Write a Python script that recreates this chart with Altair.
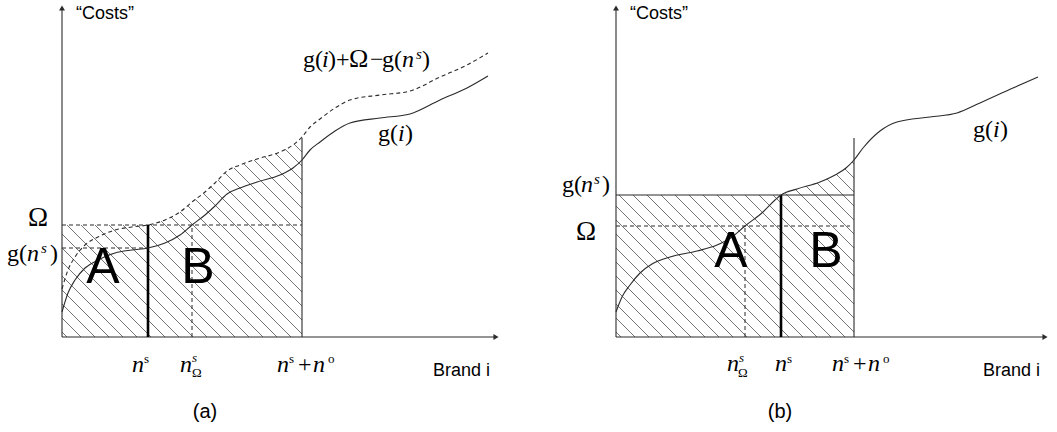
import altair as alt
import numpy as np
import pandas as pd

W, H = 1057, 432
BASE = 95          # rows between the brand axis and the bottom edge
AX_TOP = 332       # height of the cost axis above the brand axis
VERT_TOP = 199     # top of the n^s + n^o marker line

# ---------------- panel (a) ----------------
A_X0 = 62
ga_i = [0, 6, 13, 23, 36, 53, 70, 86, 103, 118, 130, 143, 153, 165, 178, 195,
        218, 231, 240, 248, 258, 273, 288, 318, 348, 378, 405, 426]
ga_g = [25, 44, 57, 69, 77, 84, 87, 89, 94, 102, 112, 122, 131, 143, 149, 155,
        162, 169, 177, 187, 195, 206, 214, 219, 223, 237, 249, 261]
a_ns, a_nomega, a_nso = 86, 130, 240
a_omega, a_gns = 112, 89
a_xend = 437

# ---------------- panel (b) ----------------
B_X0 = 616
gb_i = [0, 6, 14, 24, 36, 54, 81, 101, 116, 129, 147, 159, 165, 181, 204, 221,
        230, 238, 247, 264, 281, 314, 341, 364, 397, 422]
gb_g = [25, 40, 52, 64, 73, 80, 86, 92, 100, 111, 125, 137, 142, 148, 155, 163,
        169, 177, 189, 206, 215, 220, 224, 234, 249, 260]
b_ns, b_nomega, b_nso = 165, 129, 238
b_omega, b_gns = 111, 142
b_xend = 432

INK = "#2b2b2b"


def gx(x0, v):
    return x0 + v


def gy(v):
    return BASE + v


# ---------- curves ----------
curve_rows = []
for i, g in zip(ga_i, ga_g):
    curve_rows.append(dict(series="a_g", x=gx(A_X0, i), y=gy(g)))
for i, g in zip(gb_i, gb_g):
    curve_rows.append(dict(series="b_g", x=gx(B_X0, i), y=gy(g)))
curves = pd.DataFrame(curve_rows)

shift = a_omega - a_gns          # g(i) + Omega - g(n^s)
dashed_curve = pd.DataFrame(
    [dict(series="a_shift", x=gx(A_X0, i), y=gy(g + shift)) for i, g in zip(ga_i, ga_g)]
)


# ---------- hatching ----------
def hatch(x0, top_fn, lo, hi, step=14.0):
    grid = np.linspace(lo, hi, 3000)
    top = top_fn(grid)
    segs = []
    for c in np.arange(lo + 5, hi + top.max() + step, step):
        line = c - grid
        inside = (line >= 0) & (line <= top + 0.01)
        idx = np.where(inside)[0]
        if len(idx) < 2:
            continue
        xa, xb = grid[idx[0]], grid[idx[-1]]
        segs.append(dict(x=gx(x0, xa), y=gy(c - xa), x2=gx(x0, xb), y2=gy(c - xb)))
    return segs


def top_a(x):
    curve = np.interp(x, ga_i, ga_g) + shift
    return np.where(x <= a_ns, a_omega, curve)


def top_b(x):
    curve = np.interp(x, gb_i, gb_g)
    return np.where(x <= b_ns, b_gns, np.maximum(curve, b_gns))


hatch_df = pd.DataFrame(hatch(A_X0, top_a, 0, a_nso) + hatch(B_X0, top_b, 0, b_nso))


# ---------- straight lines ----------
def seg(x0, xa, ya, xb, yb):
    return dict(x=gx(x0, xa), y=gy(ya), x2=gx(x0, xb), y2=gy(yb))


solid = pd.DataFrame([
    seg(A_X0, 0, 0, 0, AX_TOP - 4), seg(A_X0, 0, 0, a_xend - 4, 0),
    seg(A_X0, a_nso, 0, a_nso, VERT_TOP),
    seg(B_X0, 0, 0, 0, AX_TOP - 4), seg(B_X0, 0, 0, b_xend - 4, 0),
    seg(B_X0, b_nso, 0, b_nso, VERT_TOP),
    seg(B_X0, 0, b_gns, b_nso, b_gns),
])
dashed = pd.DataFrame([
    seg(A_X0, 0, a_omega, a_nso, a_omega),
    seg(A_X0, 0, a_gns, a_ns, a_gns),
    seg(A_X0, a_nomega, 0, a_nomega, a_omega),
    seg(B_X0, 0, b_omega, b_nso - 4, b_omega),
    seg(B_X0, b_nomega, 0, b_nomega, b_omega),
])
thick = pd.DataFrame([
    seg(A_X0, a_ns, 0, a_ns, a_omega),
    seg(B_X0, b_ns, 0, b_ns, b_gns),
])
arrows_up = pd.DataFrame([dict(x=A_X0, y=gy(AX_TOP - 3)), dict(x=B_X0, y=gy(AX_TOP - 3))])
arrows_right = pd.DataFrame([dict(x=gx(A_X0, a_xend - 3), y=gy(0)),
                             dict(x=gx(B_X0, b_xend - 3), y=gy(0))])

# ---------- labels: (text, left x, baseline row from top, size) ----------
serif = [
    # panel (a)
    ("Ω", 28, 226, 27), ("g(", 7, 261, 24), (")", 50, 261, 24),
    ("g(", 303, 67, 24), (")+", 328, 67, 24), ("Ω", 349, 67, 26),
    ("−", 370, 67, 24), ("g(", 382, 67, 24), (")", 422, 67, 24),
    ("g(", 378, 141, 24), (")", 405, 141, 24),
    ("s", 144, 363, 13), ("Ω", 192, 377, 13), ("s", 289, 363, 13),
    ("+", 298, 372, 24), ("o", 328, 363, 13),
    # panel (b)
    ("Ω", 576, 240, 27), ("g(", 562, 192, 24), (")", 602, 192, 24),
    ("g(", 973, 137, 24), (")", 1000, 137, 24),
    ("Ω", 738, 377, 13), ("s", 787, 363, 13), ("s", 844, 363, 13),
    ("+", 853, 371, 24), ("o", 883, 363, 13),
]
serif_it = [
    ("n", 27, 261, 24), ("s", 41, 253, 15),
    ("i", 322, 67, 24), ("n", 402, 67, 24), ("s", 416, 59, 15),
    ("i", 398, 141, 24),
    ("n", 132, 372, 24), ("n", 180, 372, 24), ("s", 192, 362, 13),
    ("n", 277, 372, 24), ("n", 313, 372, 24),
    ("n", 581, 192, 24), ("s", 594, 184, 15),
    ("i", 993, 137, 24),
    ("n", 727, 371, 24), ("s", 739, 362, 13),
    ("n", 775, 371, 24), ("n", 832, 371, 24), ("n", 868, 371, 24),
]
sans_left = [
    ("“Costs”", 76, 19, 18), ("Brand i", 433, 376, 18),
    ("“Costs”", 630, 19, 18), ("Brand i", 983, 376, 18),
]
sans_center = [
    ("A", 103, 283, 50), ("B", 198, 283, 50), ("(a)", 205, 418, 20),
    ("A", 731, 267, 50), ("B", 826, 267, 50), ("(b)", 780, 418, 20),
]


def label_df(items):
    return pd.DataFrame([dict(text=t, x=x, y=H - b, size=s) for t, x, b, s in items])


xs = alt.X("x:Q", scale=alt.Scale(domain=[0, W], nice=False, zero=False), axis=None)
ys = alt.Y("y:Q", scale=alt.Scale(domain=[0, H], nice=False, zero=False), axis=None)

hatch_layer = alt.Chart(hatch_df).mark_rule(color="#505050", strokeWidth=0.8).encode(
    x=xs, y=ys, x2="x2:Q", y2="y2:Q")
solid_layer = alt.Chart(solid).mark_rule(color=INK, strokeWidth=1.1).encode(
    x=xs, y=ys, x2="x2:Q", y2="y2:Q")
dashed_layer = alt.Chart(dashed).mark_rule(color=INK, strokeWidth=1, strokeDash=[4, 3]).encode(
    x=xs, y=ys, x2="x2:Q", y2="y2:Q")
thick_layer = alt.Chart(thick).mark_rule(color="#000000", strokeWidth=2.6).encode(
    x=xs, y=ys, x2="x2:Q", y2="y2:Q")
curve_layer = alt.Chart(curves).mark_line(color=INK, strokeWidth=1.1, interpolate="monotone").encode(
    x=xs, y=ys, detail="series:N", order="x:Q")
dcurve_layer = alt.Chart(dashed_curve).mark_line(
    color=INK, strokeWidth=1.1, strokeDash=[4, 3], interpolate="monotone").encode(
    x=xs, y=ys, order="x:Q")
up_layer = alt.Chart(arrows_up).mark_point(
    shape="triangle-up", filled=True, size=35, color=INK, opacity=1).encode(x=xs, y=ys)
right_layer = alt.Chart(arrows_right).mark_point(
    shape="triangle-right", filled=True, size=35, color=INK, opacity=1).encode(x=xs, y=ys)


def text_layer(items, font, style, align):
    return alt.Chart(label_df(items)).mark_text(
        font=font, fontStyle=style, align=align, baseline="alphabetic", color="#000000"
    ).encode(x=xs, y=ys, text="text:N", size=alt.Size("size:Q", scale=None))


chart = alt.layer(
    hatch_layer, solid_layer, dashed_layer, thick_layer, curve_layer, dcurve_layer,
    up_layer, right_layer,
    text_layer(serif, "Liberation Serif", "normal", "left"),
    text_layer(serif_it, "Liberation Serif", "italic", "left"),
    text_layer(sans_left, "Liberation Sans", "normal", "left"),
    text_layer(sans_center, "Liberation Sans", "normal", "center"),
).properties(
    width=W, height=H, padding=0, autosize=alt.AutoSizeParams(type="none"),
    background="white",
).configure_view(stroke=None)

chart.save("out.html", embed_options={"renderer": "svg", "actions": False})
